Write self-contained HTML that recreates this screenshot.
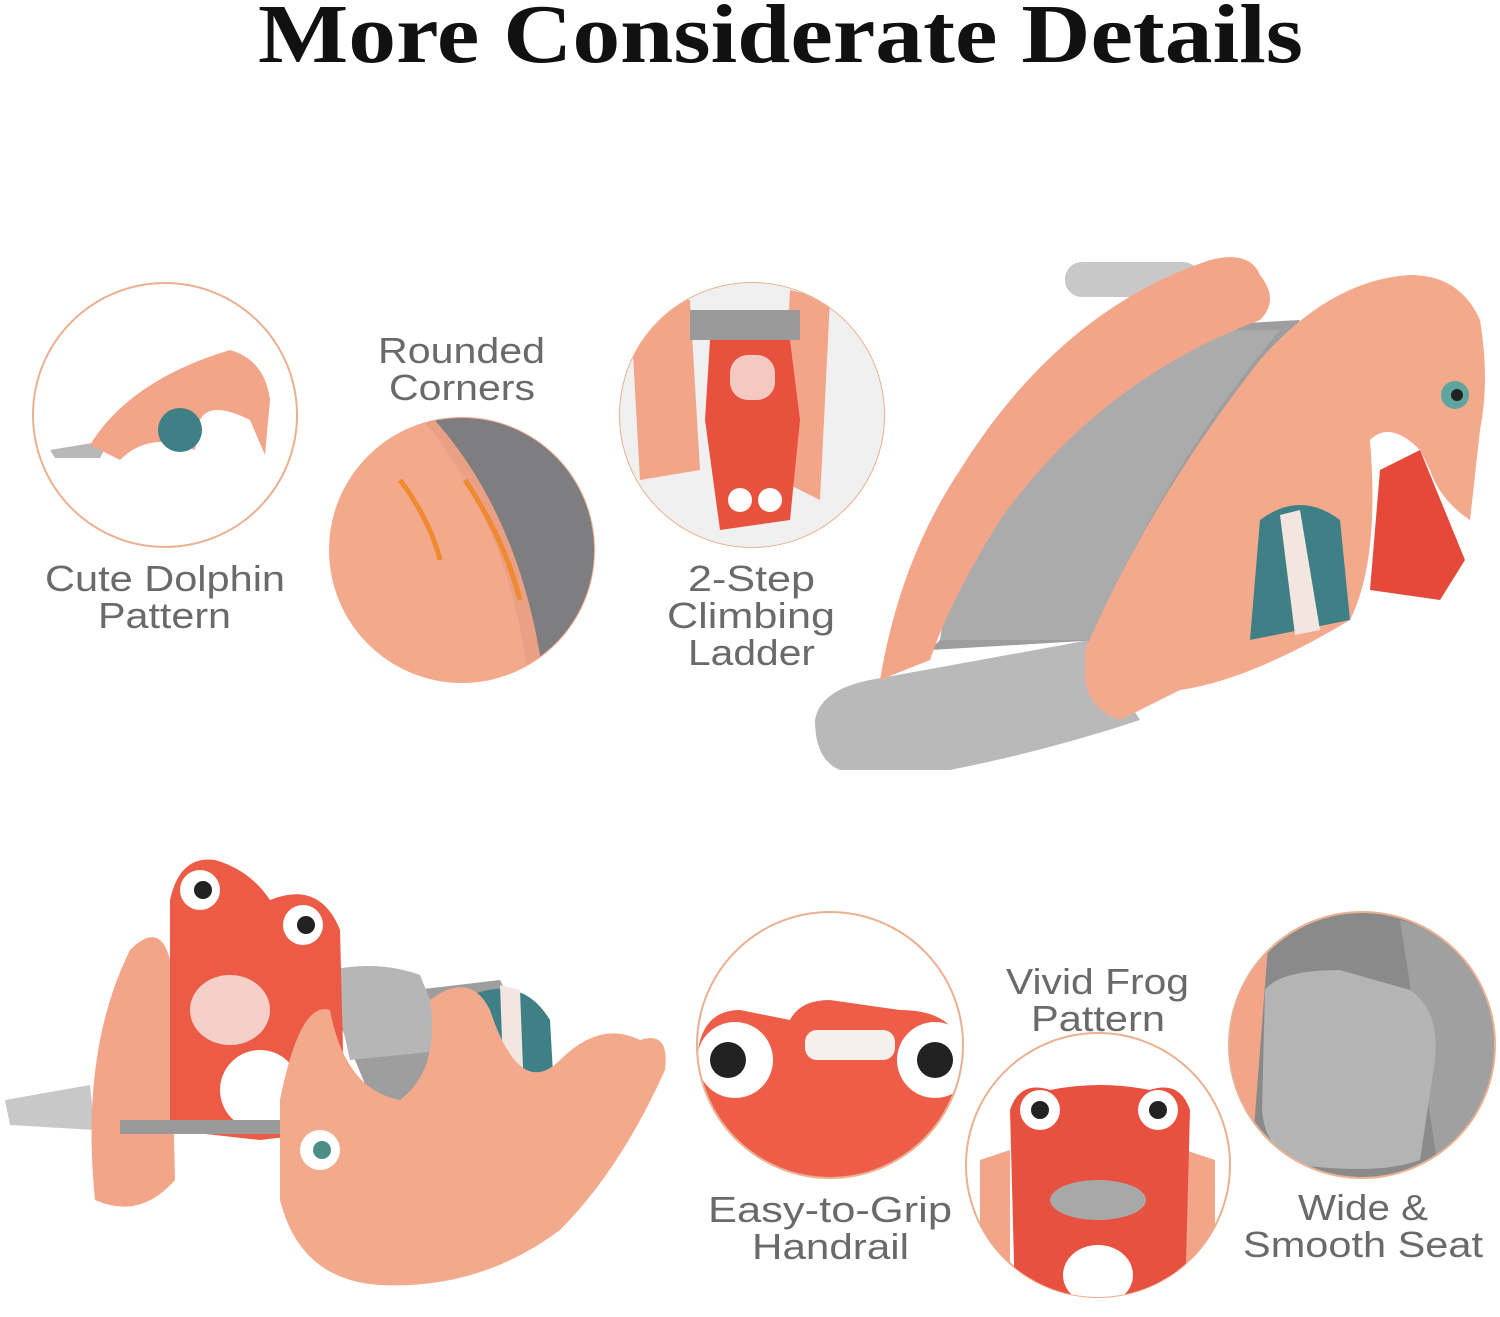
<!DOCTYPE html>
<html><head><meta charset="utf-8"><style>
html,body{margin:0;padding:0;background:#fff;}
svg{display:block;}
</style></head><body>
<svg width="1500" height="1317" viewBox="0 0 1500 1317" xmlns="http://www.w3.org/2000/svg">
<defs>
<clipPath id="c1"><circle cx="165" cy="415" r="132"/></clipPath>
<clipPath id="c2"><circle cx="462" cy="550" r="132"/></clipPath>
<clipPath id="c3"><circle cx="752" cy="415" r="132"/></clipPath>
<clipPath id="c6"><circle cx="830" cy="1045" r="132"/></clipPath>
<clipPath id="c7"><circle cx="1098" cy="1165" r="132"/></clipPath>
<clipPath id="c8"><circle cx="1362" cy="1045" r="132"/></clipPath>
</defs>
<text x="258" y="62" textLength="1045" lengthAdjust="spacingAndGlyphs" font-family="Liberation Serif, serif" font-weight="bold" font-size="84" fill="#111">More Considerate Details</text>

<g font-family="Liberation Sans, sans-serif" font-size="36" fill="#6a6a6a" lengthAdjust="spacingAndGlyphs">
<text x="45" y="591" textLength="240" lengthAdjust="spacingAndGlyphs">Cute Dolphin</text><text x="98" y="628" textLength="133" lengthAdjust="spacingAndGlyphs">Pattern</text>
<text x="378" y="363" textLength="167" lengthAdjust="spacingAndGlyphs">Rounded</text><text x="389" y="400" textLength="146" lengthAdjust="spacingAndGlyphs">Corners</text>
<text x="688" y="591" textLength="127" lengthAdjust="spacingAndGlyphs">2-Step</text><text x="667" y="628" textLength="168" lengthAdjust="spacingAndGlyphs">Climbing</text><text x="688" y="665" textLength="127" lengthAdjust="spacingAndGlyphs">Ladder</text>
<text x="708" y="1222" textLength="244" lengthAdjust="spacingAndGlyphs">Easy-to-Grip</text><text x="752" y="1259" textLength="157" lengthAdjust="spacingAndGlyphs">Handrail</text>
<text x="1006" y="994" textLength="183" lengthAdjust="spacingAndGlyphs">Vivid Frog</text><text x="1031" y="1031" textLength="134" lengthAdjust="spacingAndGlyphs">Pattern</text>
<text x="1298" y="1220" textLength="130" lengthAdjust="spacingAndGlyphs">Wide &amp;</text><text x="1243" y="1257" textLength="240" lengthAdjust="spacingAndGlyphs">Smooth Seat</text>
</g>

<!-- circle 1 dolphin -->
<circle cx="165" cy="415" r="132" fill="#fff" stroke="#eab08f" stroke-width="2"/>
<g clip-path="url(#c1)">
<path d="M50 450 L110 440 L100 458 L55 458Z" fill="#b8b8b8"/>
<path d="M90 445 Q130 380 230 350 Q265 360 270 400 L265 455 L250 420 Q210 400 200 420 L195 450 Q150 430 120 460Z" fill="#f2a588"/>
<circle cx="180" cy="430" r="22" fill="#3f7f86"/>
</g>

<!-- circle 2 rounded corners -->
<circle cx="462" cy="550" r="133" fill="#f3aa8c"/>
<g clip-path="url(#c2)">
<path d="M420 417 Q520 520 540 690 L600 690 L600 417Z" fill="#7e7e80"/>
<path d="M420 417 Q510 520 530 690 L545 690 Q525 520 432 417Z" fill="#e9a084"/>
<path d="M400 480 Q430 520 440 560" stroke="#f08a30" stroke-width="5" fill="none"/>
<path d="M465 480 Q505 540 520 600" stroke="#f08a30" stroke-width="5" fill="none"/>
</g>

<!-- circle 3 ladder -->
<circle cx="752" cy="415" r="132" fill="#fff" stroke="#eab08f" stroke-width="2"/>
<g clip-path="url(#c3)">
<rect x="620" y="280" width="270" height="270" fill="#f0f0f0"/>
<path d="M630 300 L690 300 L700 470 L640 480Z" fill="#f2a588"/>
<path d="M790 290 L830 300 L820 500 L780 480Z" fill="#f2a588"/>
<rect x="690" y="310" width="110" height="30" fill="#9a9a9a"/>
<path d="M710 340 L790 340 L800 420 L790 520 L720 530 L705 420Z" fill="#e9513f"/>
<circle cx="740" cy="500" r="12" fill="#fff"/><circle cx="770" cy="500" r="12" fill="#fff"/>
<rect x="730" y="355" width="45" height="45" rx="18" fill="#f4c9c1"/>
</g>

<!-- big slide -->
<path d="M815 720 Q820 690 870 680 L1090 640 L1140 720 Q1050 750 950 770 L840 770 Q815 760 815 720Z" fill="#b9b9b9"/>
<path d="M930 650 L1100 640 L1120 330 L1300 320 L1140 620 L940 640Z" fill="#9e9e9e"/>
<path d="M940 640 Q970 430 1120 330 L1280 330 Q1170 460 1090 640Z" fill="#ababab"/>
<rect x="1065" y="262" width="135" height="35" rx="17" fill="#c8c8c8"/>
<path d="M880 680 Q900 560 960 470 Q1060 310 1210 260 Q1250 250 1260 275 Q1280 300 1260 320 Q1100 380 1000 520 Q950 600 930 660 Z" fill="#f2a588"/>
<path d="M1085 650 Q1150 500 1260 360 Q1330 280 1410 275 Q1460 275 1480 320 Q1490 380 1480 430 L1470 520 Q1440 500 1430 470 L1420 450 Q1390 420 1370 440 Q1380 560 1350 620 Q1250 680 1180 690 L1120 720 Q1090 710 1085 680Z" fill="#f3aa8c"/>
<path d="M1260 520 Q1300 490 1340 520 L1350 620 L1250 640Z" fill="#3f7f86"/>
<path d="M1280 515 L1300 510 L1320 630 L1295 635Z" fill="#f3e6e0"/>
<path d="M1380 470 L1420 450 L1465 560 L1440 600 L1370 590Z" fill="#e5493a"/>
<circle cx="1455" cy="395" r="14" fill="#5fa59f"/><circle cx="1457" cy="395" r="6" fill="#222"/>

<!-- bottom left rocker -->
<path d="M5 1100 L90 1085 L95 1130 L10 1125Z" fill="#c8c8c8"/>
<path d="M330 1000 L500 980 L560 1100 L380 1120Z" fill="#9e9e9e"/>
<path d="M330 970 Q380 960 420 975 L450 1050 L350 1060Z" fill="#b6b6b6"/>
<path d="M95 1200 Q80 1050 130 950 Q160 920 170 960 L175 1180 Q140 1220 95 1200Z" fill="#f2a588"/>
<path d="M170 900 Q180 855 215 860 Q250 870 270 900 Q320 880 340 930 L345 1130 L260 1140 L170 1130Z" fill="#ec5b45"/>
<circle cx="200" cy="890" r="20" fill="#fff"/><circle cx="203" cy="890" r="9" fill="#222"/>
<circle cx="303" cy="925" r="20" fill="#fff"/><circle cx="306" cy="925" r="9" fill="#222"/>
<ellipse cx="230" cy="1010" rx="40" ry="35" fill="#f5d0c8"/>
<ellipse cx="260" cy="1090" rx="40" ry="40" fill="#fff"/>
<path d="M460 1000 Q520 970 550 1020 L555 1110 L470 1120Z" fill="#3f7f86"/>
<path d="M500 985 L520 990 L525 1120 L505 1120Z" fill="#f3e6e0"/>
<rect x="120" y="1120" width="200" height="14" fill="#9a9a9a"/>
<path d="M280 1100 Q300 1000 330 1010 Q345 1090 400 1100 Q440 1070 430 1000 Q470 970 490 1010 Q520 1100 560 1060 Q600 1020 640 1040 Q670 1030 665 1070 Q620 1170 560 1230 Q480 1290 380 1285 Q300 1280 280 1200Z" fill="#f3aa8c"/>
<circle cx="320" cy="1150" r="20" fill="#fff"/><circle cx="322" cy="1150" r="9" fill="#4b8e88"/>

<!-- circle 6 handrail -->
<circle cx="830" cy="1045" r="133" fill="#fff" stroke="#eab08f" stroke-width="2"/>
<g clip-path="url(#c6)">
<path d="M697 1060 Q700 1010 740 1010 L790 1020 Q800 1000 830 1000 L900 1010 Q960 1010 965 1060 L965 1180 L697 1180Z" fill="#ed5d47"/>
<rect x="805" y="1030" width="90" height="30" rx="12" fill="#f6f0ec"/>
<circle cx="735" cy="1060" r="38" fill="#fff"/><circle cx="728" cy="1060" r="18" fill="#222"/>
<circle cx="935" cy="1060" r="38" fill="#fff"/><circle cx="935" cy="1060" r="18" fill="#222"/>
</g>

<!-- circle 7 frog -->
<circle cx="1098" cy="1165" r="132" fill="#fff" stroke="#eab08f" stroke-width="2"/>
<g clip-path="url(#c7)">
<path d="M980 1160 L1010 1150 L1010 1290 L980 1290Z" fill="#f2a588"/>
<path d="M1185 1150 L1215 1160 L1215 1290 L1185 1290Z" fill="#f2a588"/>
<path d="M1010 1110 Q1020 1080 1050 1090 Q1100 1080 1150 1090 Q1180 1080 1190 1110 L1185 1300 L1015 1300Z" fill="#e8503f"/>
<circle cx="1040" cy="1110" r="20" fill="#fff"/><circle cx="1040" cy="1110" r="9" fill="#222"/>
<circle cx="1158" cy="1110" r="20" fill="#fff"/><circle cx="1158" cy="1110" r="9" fill="#222"/>
<ellipse cx="1098" cy="1200" rx="48" ry="20" fill="#a8a8a8"/>
<ellipse cx="1098" cy="1275" rx="35" ry="30" fill="#fff"/>
</g>

<!-- circle 8 seat -->
<circle cx="1362" cy="1045" r="133" fill="#fff" stroke="#eab08f" stroke-width="2"/>
<g clip-path="url(#c8)">
<rect x="1225" y="910" width="275" height="275" fill="#8a8a8a"/>
<path d="M1225 920 L1270 920 L1250 1180 L1225 1180Z" fill="#f2a588"/>
<path d="M1400 920 L1500 950 L1500 1180 L1440 1180Z" fill="#a0a0a0"/>
<path d="M1265 990 Q1280 970 1340 970 L1410 990 Q1440 1010 1435 1060 L1420 1160 Q1380 1175 1300 1165 Q1265 1150 1262 1110Z" fill="#b4b4b4"/>
</g>
</svg>
</body></html>
